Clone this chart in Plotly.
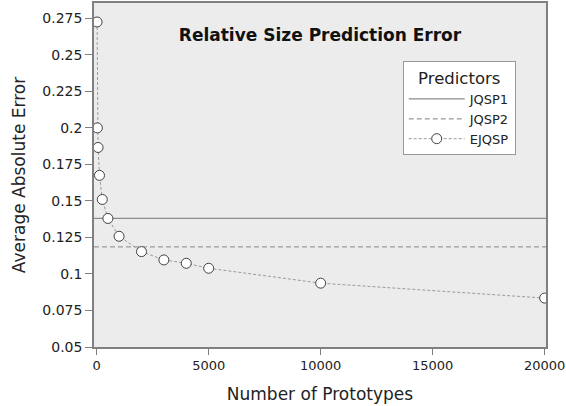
import plotly.graph_objects as go

# Data
prototypes = [16, 31, 62, 125, 250, 500, 1000, 2000, 3000, 4000, 5000, 10000, 20000]
ejqsp_error = [0.2725, 0.2000, 0.1866, 0.1675, 0.1510, 0.1380, 0.1258, 0.1153,
               0.1096, 0.1073, 0.1039, 0.0937, 0.0835]
jqsp1_error = 0.1380
jqsp2_error = 0.1185

x_range = [-120, 20060]
y_range = [0.05, 0.2855]

x_tickvals = [0, 5000, 10000, 15000, 20000]
x_ticktext = ["0", "5000", "10000", "15000", "20000"]
y_tickvals = [0.05, 0.075, 0.1, 0.125, 0.15, 0.175, 0.2, 0.225, 0.25, 0.275]
y_ticktext = ["0.05", "0.075", "0.1", "0.125", "0.15", "0.175", "0.2", "0.225", "0.25", "0.275"]

FONT = "DejaVu Sans"

fig = go.Figure()
fig.add_trace(go.Scatter(
    x=x_range, y=[jqsp1_error, jqsp1_error], mode="lines", name="JQSP1",
    line=dict(color="#8c8c8c", width=1.2, dash="solid")))
fig.add_trace(go.Scatter(
    x=x_range, y=[jqsp2_error, jqsp2_error], mode="lines", name="JQSP2",
    line=dict(color="#9a9a9a", width=1.2, dash="5px,3px")))
fig.add_trace(go.Scatter(
    x=prototypes, y=ejqsp_error, mode="lines+markers", name="EJQSP",
    line=dict(color="#9a9a9a", width=1, dash="3px,2px"),
    marker=dict(symbol="circle", size=10, color="white",
                line=dict(color="#404040", width=1))))

fig.update_layout(
    width=566, height=406,
    margin=dict(l=94, r=20, t=3, b=59, autoexpand=False),
    paper_bgcolor="white",
    plot_bgcolor="#ececec",
    font=dict(family=FONT, color="#222222", size=14),
    title=dict(text="<b>Relative Size Prediction Error</b>", x=0.5, xref="paper",
               y=1 - 35 / 406, yref="container", xanchor="center", yanchor="middle",
               font=dict(family=FONT, size=17, color="#111111")),
    legend=dict(
        x=0.683, y=0.83, xanchor="left", yanchor="top",
        bgcolor="white", bordercolor="#999999", borderwidth=1,
        title=dict(text="Predictors", side="top center", font=dict(size=16.5, family=FONT)),
        font=dict(size=13, family=FONT),
        itemwidth=56, tracegroupgap=0,
    ),
    xaxis=dict(
        range=x_range, tickvals=x_tickvals, ticktext=x_ticktext,
        showgrid=False, zeroline=False, automargin=False,
        showline=True, linecolor="#808080", linewidth=1.5, mirror=True,
        ticks="outside", ticklen=6, tickcolor="#808080",
        tickfont=dict(size=13, family=FONT), ticklabeloverflow="allow",
        title=dict(text="Number of Prototypes", font=dict(size=17, family=FONT), standoff=16),
    ),
    yaxis=dict(
        range=y_range, tickvals=y_tickvals, ticktext=y_ticktext,
        showgrid=False, zeroline=False, automargin=False,
        showline=True, linecolor="#808080", linewidth=1.5, mirror=True,
        ticks="outside", ticklen=7, tickcolor="#808080",
        tickfont=dict(size=14, family=FONT),
        title=dict(text="Average Absolute Error", font=dict(size=17, family=FONT), standoff=12),
    ),
)

fig.write_html("out.html", config={"displayModeBar": False},
               post_script="document.body.style.margin='0';")
